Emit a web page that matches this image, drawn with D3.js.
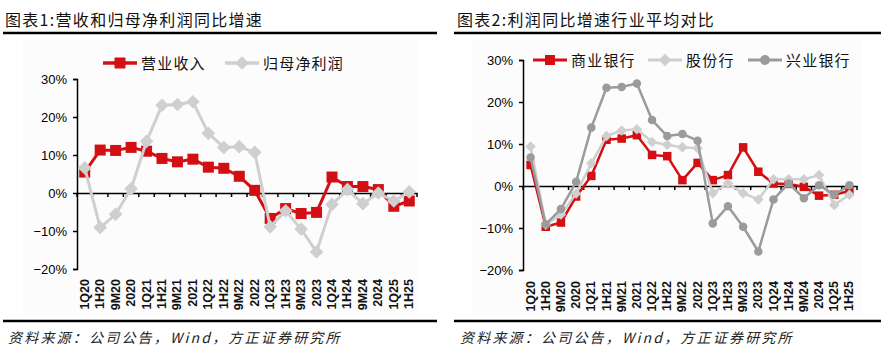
<!DOCTYPE html>
<html>
<head>
<meta charset="utf-8">
<script src="https://cdn.jsdelivr.net/npm/d3@7"></script>
<style>
  body { margin: 0; background: #fff; }
  svg { display: block; }
  text { font-family: "Liberation Sans", Arial, sans-serif; }
  .cjk { font-family: "Noto Sans CJK SC", sans-serif; }
</style>
</head>
<body>
<svg id="chart" width="884" height="351"></svg>
<script>
// categories shared by both panels
const periods = ['1Q20','1H20','9M20','2020','1Q21','1H21','9M21','2021','1Q22','1H22','9M22','2022',
                 '1Q23','1H23','9M23','2023','1Q24','1H24','9M24','2024','1Q25','1H25'];

// panel 1 (%)
const revenue = [5.5, 11.3, 11.2, 12.0, 11.0, 9.1, 8.2, 8.9, 6.8, 6.5, 4.4, 0.7,
                 -6.7, -4.1, -5.4, -5.1, 4.2, 1.7, 1.7, 0.9, -3.5, -2.1];
const netProfit = [6.6, -9.1, -5.6, 1.1, 13.6, 23.1, 23.3, 24.0, 15.7, 12.0, 12.2, 10.7,
                   -8.9, -4.7, -9.5, -15.5, -3.0, 0.9, -2.8, 0.0, -2.1, 0.3];

// panel 2 (%)
const commercialBanks = [5.0, -9.7, -8.7, -2.5, 2.4, 11.0, 11.3, 12.1, 7.4, 7.1, 1.4, 5.5,
                         1.4, 2.6, 9.2, 3.4, 0.6, 0.5, -0.2, -2.3, -2.1, -1.2];
const jointStockBanks = [9.4, -9.2, -6.8, -1.8, 5.4, 11.9, 13.2, 13.5, 10.5, 9.8, 9.2, 9.0,
                         -1.7, 0.6, -1.7, -3.2, 1.6, 1.6, 1.6, 2.6, -4.5, -2.1];
const industrial = [6.8, -9.1, -5.5, 1.0, 13.9, 23.4, 23.6, 24.4, 15.7, 11.9, 12.4, 10.8,
                    -8.9, -4.8, -9.7, -15.6, -3.2, 0.6, -2.9, 0.2, -2.1, 0.2];

const yTicks = [-20, -10, 0, 10, 20, 30];

const RED = '#d40f14', LIGHT = '#cfcfcf', DARK = '#9b9b9b';

const svg = d3.select('#chart');

// marker shapes
function marker(g, type, x, y, s, color){
  if (type === 'square') {
    g.append('rect').attr('x', x - s/2).attr('y', y - s/2).attr('width', s).attr('height', s).attr('fill', color);
  } else if (type === 'diamond') {
    const h = s * 0.62;
    g.append('path').attr('d', `M${x},${y-h}L${x+h},${y}L${x},${y+h}L${x-h},${y}Z`).attr('fill', color);
  } else {
    g.append('circle').attr('cx', x).attr('cy', y).attr('r', s/2).attr('fill', color);
  }
}

function panel(opt){
  const g = svg.append('g');

  // header + footer rules
  g.append('text').attr('class', 'cjk').attr('x', opt.left).attr('y', 26)
    .attr('font-size', 16).attr('letter-spacing', 1.3).attr('fill', '#111').text(opt.title);
  g.append('line').attr('x1', opt.ruleX[0]).attr('x2', opt.ruleX[1]).attr('y1', 33).attr('y2', 33)
    .attr('stroke', '#000').attr('stroke-width', 2.5);
  g.append('line').attr('x1', opt.ruleX[0]).attr('x2', opt.ruleX[1]).attr('y1', 321).attr('y2', 321)
    .attr('stroke', '#000').attr('stroke-width', 2.5);
  g.append('text').attr('class', 'cjk').attr('x', opt.left + 3).attr('y', 343)
    .attr('font-size', 14).attr('font-style', 'italic').attr('letter-spacing', 2.2).attr('fill', '#222')
    .text('资料来源：公司公告，Wind，方正证券研究所');

  // faint plot panel
  g.append('rect').attr('x', opt.panel[0]).attr('y', 40).attr('width', opt.panel[1] - opt.panel[0])
    .attr('height', 275).attr('fill', '#fcfcfc');

  const x = d3.scaleBand().domain(periods).range(opt.xRange);
  const y = d3.scaleLinear().domain([-20, 30]).range(opt.yRange);
  const cx = d => x(d) + x.bandwidth()/2;

  // y axis
  const ya = g.append('g').attr('transform', `translate(${opt.xRange[0]},0)`)
    .call(d3.axisLeft(y).tickValues(yTicks).tickSize(4).tickPadding(6)
      .tickFormat(d => (d < 0 ? '\u2212' + (-d) : d) + '%'));
  ya.select('.domain').attr('stroke', '#000').attr('stroke-width', 1.5);
  ya.selectAll('.tick line').attr('stroke', '#000').attr('stroke-width', 1.5);
  ya.selectAll('.tick text').attr('font-size', 13).attr('fill', '#000')
    .attr('font-family', '"Liberation Sans", Arial, sans-serif');

  // x axis on the zero line
  const xa = g.append('g').attr('transform', `translate(0,${y(0)})`)
    .call(d3.axisBottom(x.copy().padding(0)).tickSize(0).tickFormat(''));
  xa.select('.domain').attr('stroke', '#000').attr('stroke-width', 1.5);
  g.append('g').selectAll('line').data(periods.concat(['end']))
    .join('line')
    .attr('x1', d => d === 'end' ? opt.xRange[1] : x(d))
    .attr('x2', d => d === 'end' ? opt.xRange[1] : x(d))
    .attr('y1', y(0)).attr('y2', y(0) + 4)
    .attr('stroke', '#000').attr('stroke-width', 1.5);

  // category labels at the bottom
  g.append('g').selectAll('text').data(periods).join('text')
    .attr('transform', d => `translate(${cx(d)},${opt.labelY}) rotate(-90)`)
    .attr('text-anchor', 'end').attr('dominant-baseline', 'central')
    .attr('font-size', 12.5).attr('font-weight', 'bold').attr('fill', '#111').text(d => d);

  // series
  opt.series.forEach(s => {
    const line = d3.line().x((d, i) => cx(periods[i])).y(d => y(d));
    g.append('path').attr('d', line(s.values)).attr('fill', 'none')
      .attr('stroke', s.color).attr('stroke-width', opt.lineW).attr('stroke-linejoin', 'round');
    const mg = g.append('g');
    s.values.forEach((v, i) => marker(mg, s.shape, cx(periods[i]), y(v), opt.markS, s.color));
  });

  // legend
  opt.series.forEach(s => {
    const lg = g.append('g');
    lg.append('line').attr('x1', s.leg[0]).attr('x2', s.leg[0] + 34).attr('y1', opt.legY).attr('y2', opt.legY)
      .attr('stroke', s.color).attr('stroke-width', opt.lineW + 0.5);
    marker(lg, s.shape, s.leg[0] + 17, opt.legY, opt.legMark, s.color);
    lg.append('text').attr('class', 'cjk').attr('x', s.leg[0] + 38).attr('y', opt.legY + 5.5)
      .attr('font-size', 15).attr('letter-spacing', 1.2).attr('fill', '#111').text(s.name);
  });
}

panel({
  title: '图表1:营收和归母净利润同比增速',
  left: 5, ruleX: [3, 437], panel: [23, 418],
  xRange: [77, 417], yRange: [269, 79], labelY: 279,
  lineW: 3, markS: 11, legY: 63, legMark: 11,
  series: [
    { name: '营业收入', values: revenue, color: RED, shape: 'square', leg: [103] },
    { name: '归母净利润', values: netProfit, color: LIGHT, shape: 'diamond', leg: [225] }
  ]
});

panel({
  title: '图表2:利润同比增速行业平均对比',
  left: 457, ruleX: [454, 881], panel: [472, 862],
  xRange: [523, 857], yRange: [270, 60], labelY: 281,
  lineW: 2.5, markS: 8.5, legY: 60, legMark: 10,
  series: [
    { name: '商业银行', values: commercialBanks, color: RED, shape: 'square', leg: [533] },
    { name: '股份行', values: jointStockBanks, color: LIGHT, shape: 'diamond', leg: [648] },
    { name: '兴业银行', values: industrial, color: DARK, shape: 'circle', leg: [748] }
  ]
});
</script>
</body>
</html>
